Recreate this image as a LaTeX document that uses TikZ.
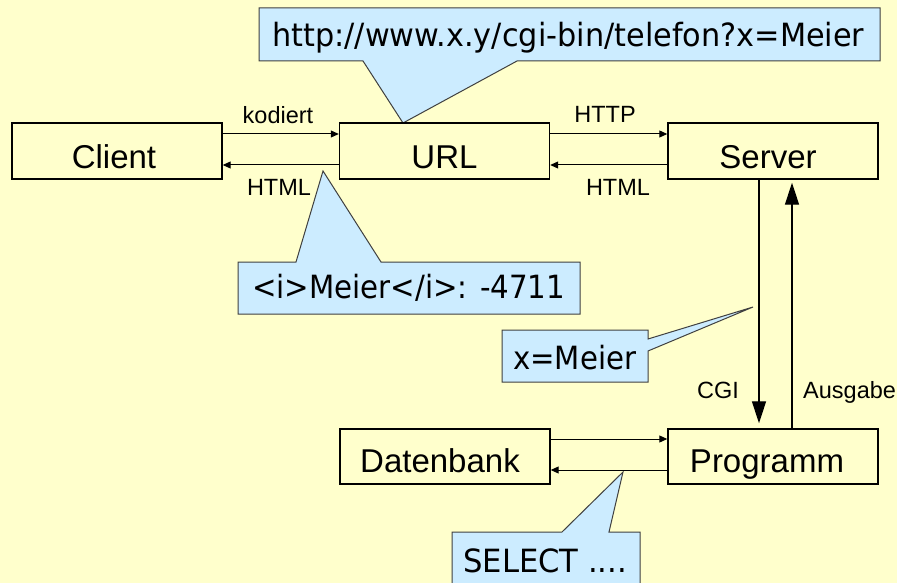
\documentclass[tikz,border=0pt]{standalone}
\usepackage{fontspec}
\usepackage{graphicx}
\setmainfont{Liberation Sans}
\newfontfamily\calloutfont{DejaVu Sans}
\usetikzlibrary{arrows.meta}
\definecolor{paper}{RGB}{255,255,204}
\definecolor{bubble}{RGB}{204,236,255}
% squeeze a callout text horizontally to a given width
\newcommand\fitwidth[2]{\resizebox{#1}{\height}{#2}}
% move a box label left of the box centre by half the given amount
\newcommand\leftby[2]{\hspace*{-#1}#2}
\tikzset{
  box/.style={draw=black, line width=1.4pt, minimum width=210pt, inner sep=0pt,
    font=\fontsize{33}{36}\selectfont, text depth=0pt},
  toprow/.style={box, minimum height=56pt, text height=34pt},
  lowrow/.style={box, minimum height=55pt, text height=31pt},
  lbl/.style={font=\fontsize{23.5}{26}\selectfont, inner sep=0pt, anchor=base},
  flow/.style={line width=1pt, -{Triangle[length=8pt,width=7pt]}},
  bigflow/.style={line width=1.3pt, -{Triangle[length=22pt,width=14pt]}},
  bubbleshape/.style={fill=bubble, draw=black!75, line width=1pt, line join=miter},
  bubbletext/.style={font=\calloutfont\fontsize{32}{36}\selectfont, inner sep=0pt, anchor=base west},
}
\begin{document}
\begin{tikzpicture}[x=1pt, y=-1pt]
  \useasboundingbox (0,0) rectangle (897,583);
  \fill[paper] (0,0) rectangle (897,583);

  % callout pointer tips
  \coordinate (tipurl)  at (403,123);
  \coordinate (tiphtml) at (323,171);
  \coordinate (tipcgi)  at (753,307);
  \coordinate (tipsql)  at (623,472);

  % callouts
  \draw[bubbleshape] (259,8) -- (880,8) -- (880,61) -- (517,61) -- (tipurl)
        -- (363,61) -- (259,61) -- cycle;
  \node[bubbletext] (urltext) at (272,47)
        {\fitwidth{592pt}{http://www.x.y/cgi-bin/telefon?x=Meier}};

  \draw[bubbleshape] (238,262) -- (296,262) -- (tiphtml) -- (381,262)
        -- (580,262) -- (580,314) -- (238,314) -- cycle;
  \node[bubbletext] (htmltext) at (252,298)
        {\fitwidth{313pt}{<i>Meier</i>: -4711}};

  \draw[bubbleshape] (502,330) -- (648,330) -- (648,339) -- (tipcgi)
        -- (648,351) -- (648,382) -- (502,382) -- cycle;
  \node[bubbletext] (cgitext) at (513,369)
        {\fitwidth{123pt}{x=Meier}};

  \draw[bubbleshape] (452,532) -- (562,532) -- (tipsql) -- (609,532)
        -- (640,532) -- (640,592) -- (452,592) -- cycle;
  \node[bubbletext] (sqltext) at (463,572)
        {\fitwidth{164pt}{SELECT ....}};

  % boxes
  \node[toprow] (client) at (117,151)   {\leftby{6pt}{Client}};
  \node[toprow] (url)    at (444.5,151) {URL};
  \node[toprow] (server) at (773,151)   {\leftby{10pt}{Server}};
  \node[lowrow] (db)     at (445,456.5) {\leftby{10pt}{Datenbank}};
  \node[lowrow] (prog)   at (773,456.5) {\leftby{12pt}{Programm}};

  % horizontal connectors
  \draw[flow] ([yshift=17pt]client.east) -- ([yshift=17pt]url.west);
  \draw[flow] ([yshift=-14pt]url.west) -- ([yshift=-14pt]client.east);
  \draw[flow] ([yshift=17pt]url.east) -- ([yshift=17pt]server.west);
  \draw[flow] ([yshift=-14pt]server.west) -- ([yshift=-14pt]url.east);
  \draw[flow] ([yshift=17.5pt]db.east) -- ([yshift=17.5pt]prog.west);
  \draw[flow] ([yshift=-13.5pt]prog.west) -- ([yshift=-13.5pt]db.east);

  % vertical connectors
  \draw[bigflow, shorten >=5pt] ([xshift=-14pt]server.south) -- ([xshift=-14pt]prog.north);
  \draw[bigflow, shorten >=3pt] ([xshift=19pt]prog.north) -- ([xshift=19pt]server.south);

  % connector labels
  \node[lbl] (lkod)   at (278,124) {kodiert};
  \node[lbl] (lhtml1) at (279,195) {HTML};
  \node[lbl] (lhttp)  at (605,123) {HTTP};
  \node[lbl] (lhtml2) at (618,195) {HTML};
  \node[lbl] (lcgi)   at (718,398) {CGI};
  \node[lbl, anchor=base west] (lout) at (803,398) {Ausgabe};
\end{tikzpicture}
\end{document}
